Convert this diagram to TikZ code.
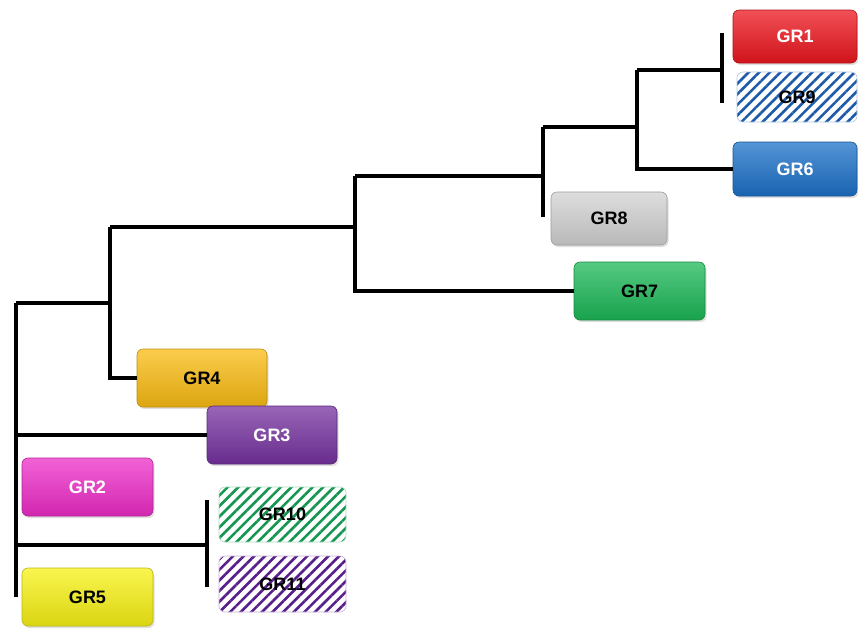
\documentclass[tikz,border=0pt]{standalone}
\usepackage{fontspec}
\setmainfont{Liberation Sans}
\usetikzlibrary{patterns.meta,shadows}
\definecolor{grRed}{RGB}{236,22,30}
\definecolor{grBlue}{RGB}{28,112,200}
\definecolor{grStripeBlue}{RGB}{30,90,170}
\definecolor{grGray}{RGB}{210,210,210}
\definecolor{grGreen}{RGB}{28,184,88}
\definecolor{grStripeGreen}{RGB}{20,150,80}
\definecolor{grGold}{RGB}{250,188,18}
\definecolor{grPurple}{RGB}{118,50,160}
\definecolor{grStripePurple}{RGB}{88,30,140}
\definecolor{grMagenta}{RGB}{238,44,200}
\definecolor{grYellow}{RGB}{248,242,20}
\newcommand{\GrLabel}[1]{{\fontsize{18}{21}\selectfont\bfseries #1}}

\begin{document}
\begin{tikzpicture}[x=1pt,y=-1pt,
  grbox/.style={rounded corners=6pt,inner sep=0pt,line width=0.6pt},
  shiny/.style={grbox,top color=#1!75!white,middle color=#1,bottom color=#1!88!black,draw=#1!75!black,
    drop shadow={opacity=0.25,shadow xshift=1.5pt,shadow yshift=-2pt}},
  hatch/.style={grbox,pattern={Lines[angle=45,distance=7.5pt,line width=2.6pt]},pattern color=#1,draw=#1!35!white},
  branch/.style={line width=4.5pt,line join=miter,black}]
\useasboundingbox (0,0) rectangle (858,630);
% boxes
\node[shiny=grRed,minimum width=124pt,minimum height=53pt,text=white] (gr1) at (795,36.5) {\GrLabel{GR1}};
\node[hatch=grStripeBlue,minimum width=120pt,minimum height=50pt] (gr9) at (797,97) {\GrLabel{GR9}};
\node[shiny=grBlue,minimum width=124pt,minimum height=54pt,text=white] (gr6) at (795,169) {\GrLabel{GR6}};
\node[shiny=grGray,minimum width=116pt,minimum height=53pt] (gr8) at (609,218.5) {\GrLabel{GR8}};
\node[shiny=grGreen,minimum width=131pt,minimum height=58pt] (gr7) at (639.5,291) {\GrLabel{GR7}};
\node[shiny=grGold,minimum width=130pt,minimum height=58pt] (gr4) at (202,378) {\GrLabel{GR4}};
\node[shiny=grPurple,minimum width=130pt,minimum height=58pt,text=white] (gr3) at (272,435) {\GrLabel{GR3}};
\node[shiny=grMagenta,minimum width=131pt,minimum height=58pt,text=white] (gr2) at (87.5,487) {\GrLabel{GR2}};
\node[hatch=grStripeGreen,minimum width=127pt,minimum height=55pt] (gr10) at (282.5,514.5) {\GrLabel{GR10}};
\node[hatch=grStripePurple,minimum width=127pt,minimum height=56pt] (gr11) at (282.5,584) {\GrLabel{GR11}};
\node[shiny=grYellow,minimum width=131pt,minimum height=58pt] (gr5) at (87.5,597) {\GrLabel{GR5}};
% junctions
\coordinate (r0) at (16,303);
\coordinate (r1) at (16,597);
\coordinate (a) at (110,303);
\coordinate (a0) at (110,227);
\coordinate (b) at (355,227);
\coordinate (b0) at (355,176);
\coordinate (c) at (543,176);
\coordinate (c0) at (543,127);
\coordinate (c1) at (543,217);
\coordinate (d) at (637,127);
\coordinate (d0) at (637,70);
\coordinate (e) at (722,70);
\coordinate (e0) at (722,33);
\coordinate (e1) at (722,103);
\coordinate (f) at (207,545);
\coordinate (f0) at (207,500);
\coordinate (f1) at (207,587);
% tree
\draw[branch] (r0) -- (r1);
\draw[branch] (r0) -- (a);
\draw[branch] (a0) |- (gr4.west);
\draw[branch] (a0) -- (b);
\draw[branch] (b0) |- (gr7.west);
\draw[branch] (b0) -- (c);
\draw[branch] (c0) -- (c1);
\draw[branch] (c0) -- (d);
\draw[branch] (d0) |- (gr6.west);
\draw[branch] (d0) -- (e);
\draw[branch] (e0) -- (e1);
\draw[branch] (r0 |- gr3.west) -- (gr3.west);
\draw[branch] (r0 |- f) -- (f);
\draw[branch] (f0) -- (f1);
\end{tikzpicture}
\end{document}
